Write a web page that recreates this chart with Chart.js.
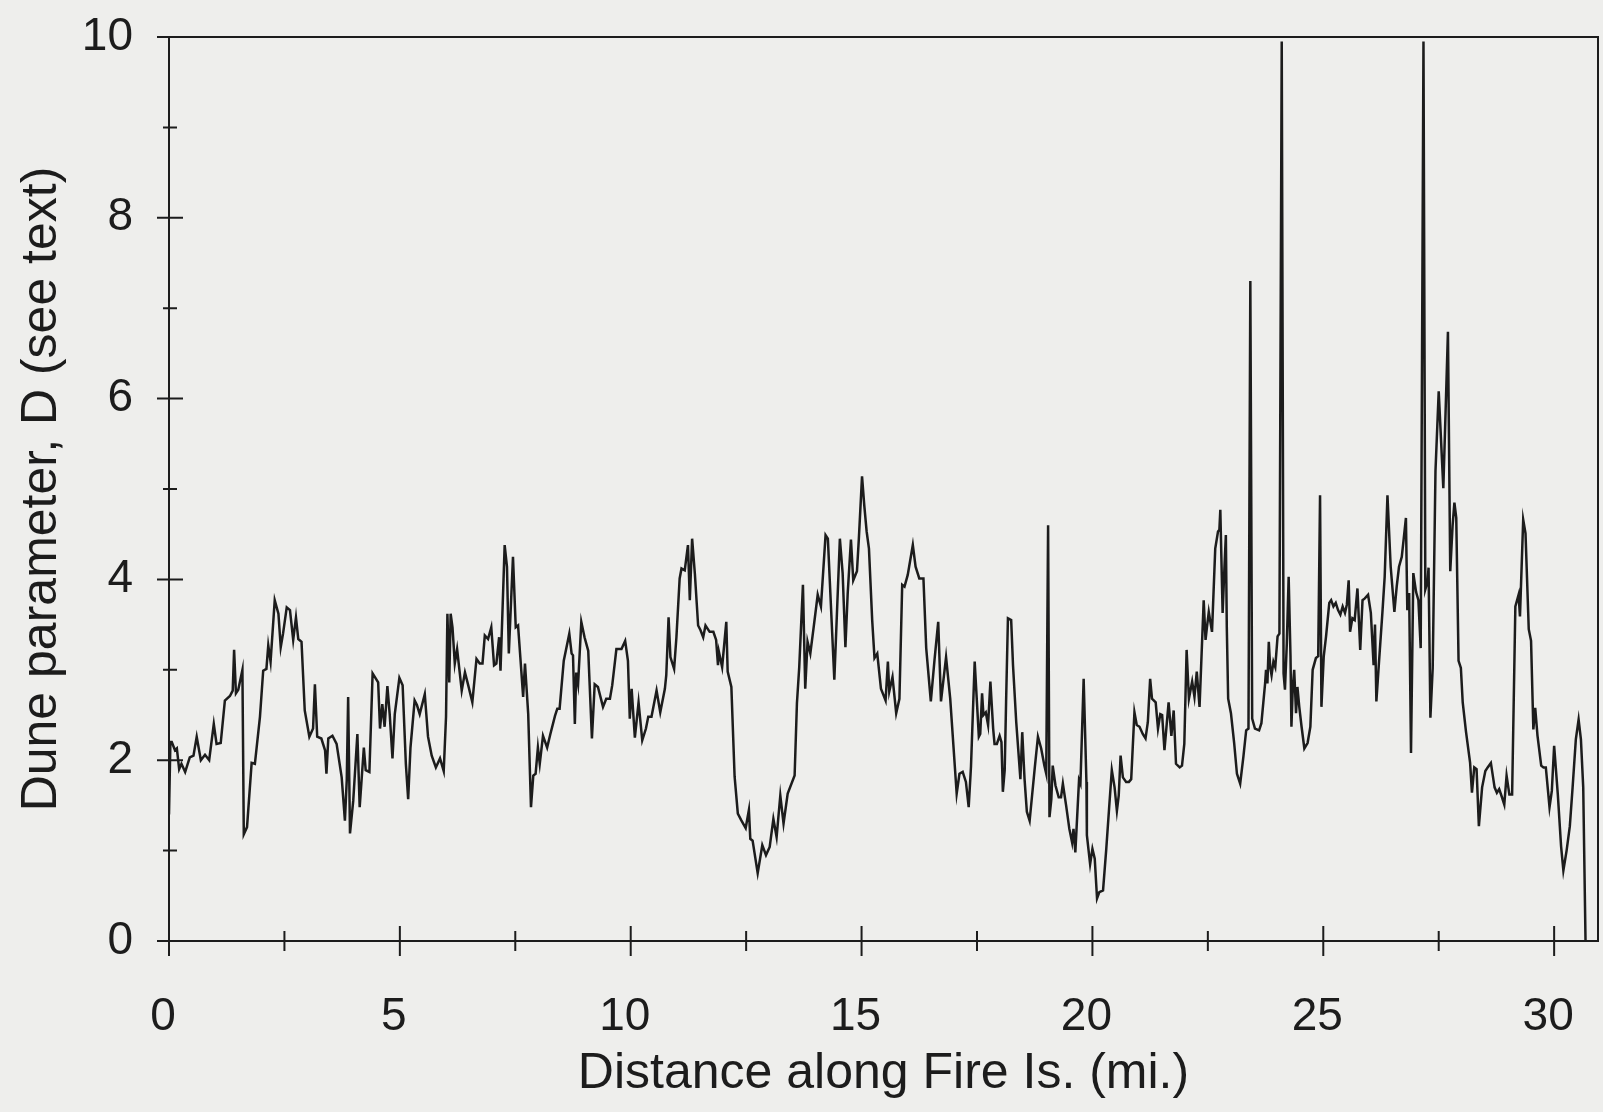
<!DOCTYPE html>
<html>
<head>
<meta charset="utf-8">
<title>Dune parameter along Fire Island</title>
<script src="https://cdn.jsdelivr.net/npm/chart.js"></script>
<style>
  body { margin: 0; background: #eeeeec; }
  canvas { display: block; }
</style>
</head>
<body>
<canvas id="chart" width="1603" height="1112"></canvas>
<script>
// distance along Fire Is. (mi.) and dune parameter D
const distance = [
  0.00,0.03,0.06,0.13,0.17,0.22,0.27,0.35,0.45,0.53,0.60,0.69,0.78,0.87,0.97,1.03,1.12,1.21,1.32,1.38,1.41,1.45,1.50,1.59,1.62,1.69,1.79,1.86,1.97,2.04,
  2.11,2.15,2.20,2.29,2.37,2.42,2.47,2.55,2.62,2.69,2.75,2.80,2.87,2.94,3.04,3.12,3.16,3.21,3.30,3.38,3.41,3.45,3.54,3.63,3.74,3.81,3.85,3.88,3.92,3.99,
  4.08,4.13,4.22,4.26,4.34,4.41,4.53,4.57,4.62,4.67,4.73,4.78,4.84,4.89,4.99,5.06,5.13,5.18,5.23,5.32,5.37,5.43,5.54,5.61,5.69,5.78,5.87,
  5.95,6.00,6.03,6.07,6.10,6.14,6.19,6.24,6.34,6.41,6.48,6.57,6.66,6.73,6.79,6.84,6.91,6.98,7.04,7.09,7.15,7.18,7.27,7.32,7.36,7.45,7.51,7.56,7.63,7.67,
  7.71,7.78,7.84,7.89,7.94,7.99,8.03,8.10,8.19,8.26,8.36,8.41,8.46,8.55,8.67,8.72,8.75,8.79,8.82,8.86,8.93,9.00,9.08,9.16,9.22,9.29,9.40,9.47,9.55,9.60,
  9.69,9.80,9.88,9.94,9.98,10.02,10.09,10.17,10.25,10.33,10.38,10.45,10.56,10.64,10.74,10.77,10.82,10.86,10.94,10.99,11.06,11.10,11.17,11.24,11.28,11.33,11.39,11.46,11.51,11.57,
  11.62,11.71,
  11.79,11.85,11.89,11.91,11.98,12.07,12.10,12.18,12.25,12.32,12.39,12.49,12.56,12.59,12.64,12.75,12.85,12.93,13.01,13.09,13.16,13.24,13.31,13.40,13.55,13.60,13.65,13.73,13.78,13.83,
  13.89,13.96,14.05,14.12,14.22,14.27,14.41,14.53,14.59,14.65,14.70,14.77,14.82,14.90,14.94,15.01,15.06,15.11,15.16,15.23,15.28,15.34,15.42,15.52,15.57,15.60,15.67,15.75,15.82,15.88,
  15.93,16.00,16.11,16.17,16.25,16.34,16.40,16.50,16.58,16.66,16.72,16.83,16.92,17.06,17.12,17.19,17.26,17.32,17.37,17.45,17.54,
  17.57,17.61,17.64,17.69,17.74,17.79,17.85,17.88,17.93,17.99,18.03,18.06,18.10,18.13,18.17,18.24,18.28,18.35,18.41,18.44,18.48,18.53,18.58,18.64,18.75,18.82,18.89,18.96,19.00,19.04,
  19.07,19.11,19.14,19.20,19.27,19.32,19.36,19.43,19.50,19.56,19.59,19.63,19.71,19.74,19.81,19.87,19.88,19.95,20.00,20.05,20.10,20.15,20.23,20.30,20.36,20.42,20.48,20.53,20.57,20.61,
  20.66,20.73,20.79,20.84,20.91,20.96,21.02,21.09,21.15,21.20,21.25,21.29,21.37,21.42,21.47,21.51,21.56,21.65,21.71,21.76,21.81,21.89,21.94,21.99,22.04,22.09,22.16,22.21,22.26,22.32,
  22.41,22.45,22.48,22.52,22.59,22.66,22.72,22.75,22.77,
  22.82,22.86,22.89,22.91,22.94,23.00,23.07,23.13,23.20,23.27,23.33,23.38,23.42,23.46,23.52,23.61,23.66,23.74,23.76,23.79,23.82,23.85,23.88,23.92,23.96,24.01,24.05,24.10,24.14,24.17,
  24.21,24.25,24.29,24.31,24.34,24.37,24.41,24.44,24.48,24.53,24.59,24.66,24.72,24.77,24.84,24.89,24.93,24.96,25.01,25.06,25.13,25.17,25.22,25.27,25.32,25.37,25.42,25.47,25.51,25.55,
  25.58,25.63,25.68,25.74,25.80,25.85,25.90,25.97,26.03,26.09,26.12,26.15,26.21,26.28,26.33,26.39,26.46,26.54,26.59,26.64,26.70,26.74,26.79,26.82,26.86,26.90,26.95,27.01,27.06,27.11,
  27.17,27.21,27.26,27.28,27.32,27.37,27.43,27.50,27.60,27.70,27.75,27.80,27.84,27.88,27.93,27.98,28.02,28.09,28.18,28.22,28.27,28.32,28.37,28.44,28.51,28.56,28.63,28.71,28.76,28.81,
  28.87,28.92,28.97,29.03,29.09,29.16,29.23,29.26,29.33,29.38,29.45,29.50,29.55,29.59,29.64,29.72,29.77,29.82,29.90,29.95,30.00,30.08,30.15,30.20,30.27,30.34,30.40,30.47,30.53,30.58,
  30.63,30.68
];
const duneD = [
  1.40,2.20,2.20,2.11,2.13,1.90,1.96,1.87,2.03,2.05,2.26,2.00,2.06,2.00,2.40,2.18,2.19,2.66,2.71,2.77,3.22,2.74,2.78,3.00,1.18,1.26,1.97,1.96,2.48,2.99,
  3.01,3.27,3.09,3.77,3.62,3.25,3.40,3.69,3.66,3.33,3.58,3.34,3.31,2.55,2.26,2.35,2.84,2.26,2.24,2.11,1.85,2.24,2.27,2.18,1.81,1.33,1.78,2.70,1.19,1.55,
  2.29,1.48,2.14,1.89,1.87,2.96,2.86,2.35,2.62,2.37,2.82,2.51,2.02,2.51,2.91,2.83,1.96,1.57,2.14,2.66,2.61,2.51,2.73,2.26,2.05,1.92,2.02,
  1.88,2.48,3.62,2.86,3.62,3.47,3.07,3.23,2.77,2.97,2.83,2.64,3.12,3.07,3.07,3.38,3.34,3.47,3.05,3.07,3.36,2.99,4.38,4.14,3.18,4.25,3.47,3.49,2.99,2.70,
  3.07,2.51,1.48,1.83,1.85,2.14,1.96,2.27,2.14,2.29,2.49,2.57,2.57,3.10,3.40,3.18,3.16,2.40,2.97,2.84,3.53,3.36,3.21,2.24,2.84,2.81,2.59,2.68,2.68,2.83,
  3.23,3.23,3.32,3.10,2.46,2.79,2.25,2.64,2.22,2.35,2.48,2.48,2.77,2.53,2.79,2.94,3.58,3.14,3.01,3.36,4.01,4.12,4.10,4.38,3.77,4.45,4.06,3.49,3.44,3.36,
  3.49,3.42,
  3.42,3.33,3.05,3.20,3.03,3.53,2.98,2.81,1.82,1.41,1.34,1.25,1.45,1.13,1.11,0.75,1.06,0.95,1.04,1.35,1.15,1.61,1.30,1.63,1.83,2.63,3.03,3.94,2.79,3.31,
  3.18,3.46,3.83,3.70,4.49,4.45,2.89,4.45,4.07,3.25,3.85,4.44,3.99,4.09,4.44,5.14,4.81,4.53,4.34,3.55,3.13,3.18,2.79,2.66,3.09,2.76,2.92,2.52,2.68,3.94,
  3.92,4.05,4.38,4.14,4.01,4.01,3.24,2.65,3.11,3.53,2.65,3.14,2.68,1.63,1.85,1.87,1.76,1.48,1.93,3.09,2.26,
  2.29,2.74,2.50,2.53,2.39,2.87,2.35,2.18,2.18,2.27,2.20,1.65,1.89,2.64,3.57,3.55,3.05,2.42,2.00,1.79,2.31,1.79,1.43,1.33,1.91,2.26,2.13,1.94,1.85,4.60,
  1.37,1.57,1.94,1.72,1.59,1.59,1.74,1.50,1.24,1.09,1.24,0.98,1.78,1.74,2.90,1.76,1.17,0.85,1.02,0.91,0.47,0.54,0.56,1.02,1.46,1.89,1.70,1.44,1.61,2.05,
  1.81,1.76,1.76,1.79,2.53,2.39,2.37,2.29,2.24,2.42,2.90,2.68,2.64,2.35,2.51,2.50,2.11,2.64,2.27,2.55,1.96,1.92,1.94,2.18,3.22,2.68,2.87,2.70,2.98,2.59,
  3.77,3.33,3.47,3.64,3.42,4.34,4.53,4.55,4.77,
  3.63,4.14,4.49,3.48,2.68,2.52,2.19,1.85,1.74,2.04,2.33,2.35,7.30,2.46,2.35,2.33,2.41,2.85,3.00,2.85,3.31,3.03,2.94,3.09,3.03,3.37,3.40,9.95,2.96,2.78,
  3.29,4.03,3.15,2.37,2.81,3.00,2.52,2.81,2.59,2.37,2.13,2.19,2.37,3.00,3.13,3.15,4.93,2.59,3.15,3.37,3.74,3.77,3.70,3.74,3.66,3.61,3.70,3.63,3.72,3.99,
  3.42,3.57,3.55,3.90,3.22,3.77,3.79,3.83,3.63,3.05,3.50,2.65,3.11,3.63,4.03,4.93,4.14,3.64,3.92,4.14,4.25,4.44,4.68,3.66,3.85,2.08,4.07,3.86,3.77,3.24,
  9.95,3.89,3.98,4.13,2.47,3.02,5.20,6.08,5.01,6.74,4.09,4.59,4.85,4.68,3.10,3.02,2.64,2.32,1.97,1.64,1.92,1.90,1.27,1.70,1.88,1.92,1.97,1.70,1.64,1.68,
  1.59,1.51,1.83,1.62,1.62,3.70,3.83,3.59,4.66,4.51,3.45,3.32,2.34,2.58,2.27,1.94,1.92,1.92,1.48,1.66,2.16,1.62,1.05,0.78,1.00,1.27,1.70,2.23,2.45,2.23,
  1.70,0.00
];

const xTickValues = [0, 2.5, 5, 7.5, 10, 12.5, 15, 17.5, 20, 22.5, 25, 27.5, 30];
const xLabelValues = [0, 5, 10, 15, 20, 25, 30];
const yTickValues = [0, 1, 2, 3, 4, 5, 6, 7, 8, 9, 10];
const yLabelValues = [0, 2, 4, 6, 8, 10];

if (distance.length !== duneD.length) console.warn('data length mismatch', distance.length, duneD.length);

const ink = '#1c1c1c';
const paperColor = '#eeeeec';
const family = "'Liberation Sans', Arial, Helvetica, sans-serif";

// paper background, closed frame, and tick marks crossing the axes
const paper = {
  id: 'paper',
  beforeDraw(chart) {
    const {ctx, width, height} = chart;
    ctx.save();
    ctx.fillStyle = paperColor;
    ctx.fillRect(0, 0, width, height);
    ctx.restore();
  },
  afterDatasetsDraw(chart) {
    const {ctx, chartArea: a, scales: {x, y}} = chart;
    ctx.save();
    ctx.strokeStyle = ink;
    ctx.lineWidth = 2;
    ctx.strokeRect(a.left, a.top, a.right - a.left, a.bottom - a.top);
    ctx.beginPath();
    x.ticks.forEach(t => {
      const px = x.getPixelForValue(t.value);
      const len = xLabelValues.includes(t.value) ? 15 : 10;
      ctx.moveTo(px, a.bottom - len);
      ctx.lineTo(px, a.bottom + len);
    });
    y.ticks.forEach(t => {
      const py = y.getPixelForValue(t.value);
      const major = yLabelValues.includes(t.value);
      ctx.moveTo(a.left - (major ? 12 : 6), py);
      ctx.lineTo(a.left + (major ? 14 : 8), py);
    });
    ctx.stroke();
    ctx.restore();
  }
};

new Chart(document.querySelector('#chart'), {
  type: 'line',
  data: {
    datasets: [{
      data: distance.map((d, i) => ({x: d, y: duneD[i]})),
      borderColor: ink,
      borderWidth: 2.5,
      pointRadius: 0,
      tension: 0,
      fill: false
    }]
  },
  options: {
    responsive: false,
    animation: false,
    events: [],
    layout: {padding: {top: 37, right: 5, bottom: 0, left: 0}},
    plugins: {legend: {display: false}, tooltip: {enabled: false}},
    scales: {
      x: {
        type: 'linear',
        min: 0,
        max: 30.95,
        afterBuildTicks: s => { s.ticks = xTickValues.map(v => ({value: v})); },
        afterFit: s => { s.height = 171; s.paddingLeft = 0; s.paddingRight = 0; },
        ticks: {
          callback: v => xLabelValues.includes(v) ? String(v) : '',
          autoSkip: false,
          maxRotation: 0,
          labelOffset: -6,
          padding: 41,
          color: ink,
          font: {family, size: 46}
        },
        grid: {display: false},
        border: {display: true, color: ink, width: 2},
        title: {
          display: true,
          text: 'Distance along Fire Is. (mi.)',
          color: ink,
          font: {family, size: 50},
          padding: {top: 0, bottom: 8}
        }
      },
      y: {
        min: 0,
        max: 10,
        afterBuildTicks: s => { s.ticks = yTickValues.map(v => ({value: v})); },
        afterFit: s => { s.width = 169; s.paddingTop = 0; s.paddingBottom = 0; },
        ticks: {
          callback: v => yLabelValues.includes(v) ? String(v) : '',
          autoSkip: false,
          padding: 28,
          color: ink,
          font: {family, size: 46}
        },
        grid: {display: false},
        border: {display: true, color: ink, width: 2},
        title: {
          display: true,
          text: 'Dune parameter, D (see text)',
          color: ink,
          font: {family, size: 50},
          padding: {top: 12, bottom: 0}
        }
      }
    }
  },
  plugins: [paper]
});
</script>
</body>
</html>
